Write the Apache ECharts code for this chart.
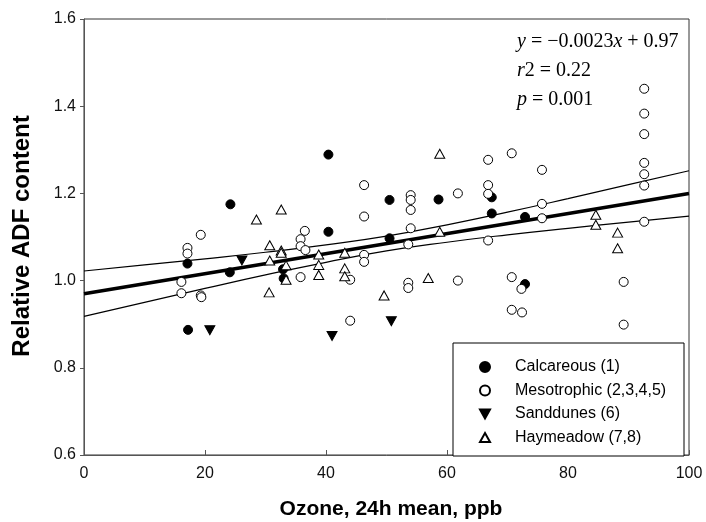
<!DOCTYPE html>
<html>
<head>
<meta charset="utf-8">
<script src="https://cdn.jsdelivr.net/npm/echarts@6/dist/echarts.min.js"></script>
<style>html,body{margin:0;padding:0;background:#fff}#c{width:706px;height:522px}</style>
</head>
<body>
<div id="c"></div>
<script>
// Data
var calcareous = [[17.1,1.039],[17.2,0.887],[24.2,1.175],[24.1,1.019],[32.9,1.026],[33.0,1.005],[40.4,1.289],[40.4,1.112],[50.5,1.185],[50.5,1.097],[58.6,1.186],[67.4,1.191],[67.4,1.154],[72.9,1.146],[72.9,0.992]];
var mesotrophic = [[16.1,0.997],[16.1,0.971],[17.1,1.075],[17.1,1.062],[19.3,1.105],[19.3,0.966],[19.4,0.962],[35.8,1.095],[35.8,1.079],[36.5,1.114],[36.6,1.070],[35.8,1.008],[44.0,1.002],[44.0,0.908],[46.3,1.219],[46.3,1.147],[46.3,1.059],[46.3,1.043],[53.6,1.083],[54.0,1.196],[54.0,1.185],[54.0,1.162],[54.0,1.120],[53.6,0.995],[53.6,0.983],[61.8,1.200],[61.8,1.000],[66.8,1.277],[66.8,1.219],[66.8,1.199],[66.8,1.092],[70.7,1.292],[70.7,1.008],[70.7,0.933],[72.3,0.981],[72.4,0.927],[75.7,1.254],[75.7,1.176],[75.7,1.143],[89.2,0.997],[89.2,0.899],[92.6,1.440],[92.6,1.383],[92.6,1.336],[92.6,1.270],[92.6,1.244],[92.6,1.218],[92.6,1.135]];
var sanddunes = [[20.8,0.886],[26.1,1.046],[41.0,0.873],[50.8,0.907]];
var haymeadow = [[28.5,1.140],[32.6,1.163],[30.7,1.081],[30.7,1.046],[30.6,0.973],[32.6,1.069],[32.6,1.064],[33.4,1.035],[33.4,1.002],[38.8,1.060],[38.8,1.036],[38.8,1.013],[43.1,1.064],[43.1,1.028],[43.1,1.010],[49.6,0.966],[56.9,1.006],[58.8,1.291],[58.8,1.112],[84.6,1.151],[84.6,1.128],[88.2,1.110],[88.2,1.074]];
var fitLine = [[0,0.970],[100,1.200]];
var upperBand = [[0,1.022],[10,1.036],[20,1.050],[30,1.065],[40,1.082],[50,1.102],[60,1.128],[70,1.157],[80,1.188],[90,1.220],[100,1.252]];
var lowerBand = [[0,0.918],[10,0.950],[20,0.982],[30,1.013],[40,1.042],[50,1.068],[60,1.088],[70,1.105],[80,1.120],[90,1.134],[100,1.148]];
var legendNames = ['Calcareous (1)','Mesotrophic (2,3,4,5)','Sanddunes (6)','Haymeadow (7,8)'];
var xTitle = 'Ozone, 24h mean, ppb';
var yTitle = 'Relative ADF content';

var chart = echarts.init(document.getElementById('c'));
var sans = 'Liberation Sans, Arial, sans-serif';
var serif = 'Liberation Serif, Times New Roman, serif';
var triUp = 'path://M5,0L10,9L0,9Z';
var triDown = 'path://M0,0L10,0L5,9Z';
function eqStyle(txt){
  return {
    text: txt, fill:'#000', font: '20px ' + serif,
    textVerticalAlign:'middle',
    rich:{
      n:{fontFamily:serif,fontSize:20,color:'#000'},
      i:{fontFamily:serif,fontSize:20,fontStyle:'italic',color:'#000'}
    }
  };
}
chart.setOption({
  animation:false,
  grid:{left:84,right:17,top:19,bottom:67,show:true,borderColor:'#333',borderWidth:1},
  xAxis:{type:'value',min:0,max:100,interval:20,
    axisLine:{show:true,lineStyle:{color:'#555',width:1}},
    axisTick:{show:true,inside:true,length:5,lineStyle:{color:'#555'}},
    axisLabel:{fontSize:16,fontFamily:sans,color:'#111',margin:11},
    splitLine:{show:false}},
  yAxis:{type:'value',min:0.6,max:1.6,interval:0.2,
    axisLine:{show:true,lineStyle:{color:'#555',width:1}},
    axisTick:{show:true,inside:false,length:4,lineStyle:{color:'#555'}},
    axisLabel:{fontSize:16,fontFamily:sans,color:'#111',margin:8,formatter:function(v){return v.toFixed(1);}},
    splitLine:{show:false}},
  legend:{orient:'vertical',left:479,top:359,itemWidth:10,itemHeight:10,itemGap:7.5,padding:0,z:20,
    textStyle:{fontSize:16,fontFamily:sans,color:'#000',lineHeight:16,padding:[0,0,0,20]},
    data:[
      {name:legendNames[0],icon:'circle'},
      {name:legendNames[1],icon:'circle'},
      {name:legendNames[2],icon:triDown},
      {name:legendNames[3],icon:triUp}
    ]},
  graphic:[
    {type:'rect',z:15,shape:{x:453,y:343,width:231,height:113},style:{fill:'#fff',stroke:'#000',lineWidth:1}},
    {type:'text',z:15,x:517,y:42,style:eqStyle('{i|y}{n| = \u22120.0023}{i|x}{n| + 0.97}')},
    {type:'text',z:15,x:517,y:71,style:eqStyle('{i|r}{n|2 = 0.22}')},
    {type:'text',z:15,x:517,y:100,style:eqStyle('{i|p}{n| = 0.001}')},
    {type:'text',z:15,x:391,y:509,style:{text:xTitle,font:'bold 21px '+sans,fill:'#000',textAlign:'center',textVerticalAlign:'middle'}},
    {type:'text',z:15,x:22,y:236,rotation:Math.PI/2,style:{text:yTitle,font:'bold 24px '+sans,fill:'#000',textAlign:'center',textVerticalAlign:'middle'}}
  ],
  series:[
    {type:'line',data:fitLine,showSymbol:false,lineStyle:{color:'#000',width:3.5},z:1,silent:true},
    {type:'line',data:upperBand,showSymbol:false,smooth:true,lineStyle:{color:'#000',width:1.2},z:1,silent:true},
    {type:'line',data:lowerBand,showSymbol:false,smooth:true,lineStyle:{color:'#000',width:1.2},z:1,silent:true},
    {name:legendNames[0],type:'scatter',data:calcareous,symbol:'circle',symbolSize:9,itemStyle:{color:'#000',borderColor:'#000',borderWidth:1,opacity:1},z:3},
    {name:legendNames[1],type:'scatter',data:mesotrophic,symbol:'circle',symbolSize:9,itemStyle:{color:'#fff',borderColor:'#000',borderWidth:1,opacity:1},z:3},
    {name:legendNames[2],type:'scatter',data:sanddunes,symbol:triDown,symbolSize:[10,9],itemStyle:{color:'#000',borderColor:'#000',borderWidth:1,opacity:1},z:3},
    {name:legendNames[3],type:'scatter',data:haymeadow,symbol:triUp,symbolSize:[10,9],itemStyle:{color:'#fff',borderColor:'#000',borderWidth:1,opacity:1},z:3}
  ]
});
</script>
</body>
</html>
